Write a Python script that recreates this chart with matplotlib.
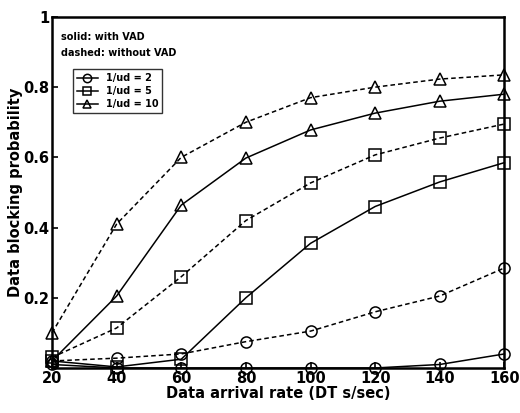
import numpy as np
import matplotlib.pyplot as plt

x = [20, 40, 60, 80, 100, 120, 140, 160]

# with VAD (solid)
circ_solid = [0.01, 0.0, 0.0, 0.0, 0.0, 0.0, 0.01, 0.04]
sq_solid = [0.02, 0.003, 0.025, 0.20, 0.355, 0.46, 0.53, 0.585]
tri_solid = [0.02, 0.205, 0.464, 0.598, 0.678, 0.726, 0.76, 0.78]

# without VAD (dashed)
circ_dash = [0.02, 0.028, 0.04, 0.075, 0.105, 0.16, 0.205, 0.285]
sq_dash = [0.03, 0.114, 0.26, 0.42, 0.527, 0.607, 0.655, 0.695]
tri_dash = [0.10, 0.41, 0.60, 0.70, 0.77, 0.80, 0.823, 0.835]

labels = ["1/ud = 2", "1/ud = 5", "1/ud = 10"]

plt.rcParams['font.family'] = 'DejaVu Sans'
plt.rcParams['font.weight'] = 'bold'

fig = plt.figure(figsize=(5.2, 4.13), dpi=100)
ax = fig.add_axes([0.1, 0.109, 0.87, 0.85])

mk = dict(markersize=8, markerfacecolor='none', markeredgecolor='black',
          markeredgewidth=1.1, clip_on=False)
h1, = ax.plot(x, circ_solid, '-', color='black', lw=1.1, marker='o', **mk)
h2, = ax.plot(x, sq_solid, '-', color='black', lw=1.1, marker='s', **mk)
h3, = ax.plot(x, tri_solid, '-', color='black', lw=1.1, marker='^', **mk)
ax.plot(x, circ_dash, '--', color='black', lw=1.1, dashes=(3, 2), marker='o', **mk)
ax.plot(x, sq_dash, '--', color='black', lw=1.1, dashes=(3, 2), marker='s', **mk)
ax.plot(x, tri_dash, '--', color='black', lw=1.1, dashes=(3, 2), marker='^', **mk)

ax.set_xlim(20, 160)
ax.set_ylim(0, 1)
ax.set_xticks(x)
ax.set_yticks([0.2, 0.4, 0.6, 0.8, 1])
ax.set_yticklabels(["0.2", "0.4", "0.6", "0.8", "1"])
ax.tick_params(direction='in', length=4, width=1.2, labelsize=10.5, pad=2)
for s in ax.spines.values():
    s.set_linewidth(1.8)

ax.set_xlabel("Data arrival rate (DT s/sec)", fontsize=10.5, fontweight='bold', labelpad=0)
ax.set_ylabel("Data blocking probability", fontsize=10.5, fontweight='bold', labelpad=0)

ax.text(0.02, 0.935, "solid: with VAD", transform=ax.transAxes, fontsize=7, fontweight='bold')
ax.text(0.02, 0.89, "dashed: without VAD", transform=ax.transAxes, fontsize=7, fontweight='bold')

leg = ax.legend([h1, h2, h3], labels, loc='upper left', bbox_to_anchor=(0.035, 0.865),
                fontsize=7, frameon=True, fancybox=False, edgecolor='black',
                handlelength=2.2, borderpad=0.4, labelspacing=0.3, markerscale=0.75)
leg.get_frame().set_linewidth(1.0)

fig.savefig("out.png", dpi=100)
